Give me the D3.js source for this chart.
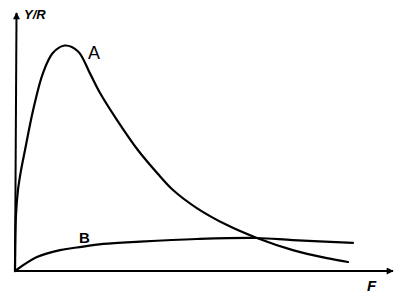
<!DOCTYPE html>
<html><head><meta charset="utf-8">
<script src="https://cdn.jsdelivr.net/npm/d3@7"></script>
<style>html,body{margin:0;padding:0;background:#fff;}svg{display:block;}</style>
</head><body>
<script>
// Curve A (F, Y/R)
const curveAF = [0, 0.26, 0.79, 1.6, 2.65, 4.8, 7.4, 10.0, 13.2, 16.7, 19.8, 22.5, 27.0, 32.5, 37.6, 41.8, 48.1, 56.1, 64.0, 73.5, 82.5, 88.1];
const curveAY = [0, 21.7, 31.4, 39.1, 46.9, 62.4, 76.7, 84.5, 87.4, 85.1, 76.7, 69.0, 58.5, 46.9, 38.0, 31.4, 24.4, 17.8, 12.8, 8.1, 5.0, 3.5];
// Curve B
const curveBF = [0, 5.8, 11.9, 16.4, 23.3, 33.1, 48.1, 64.0, 73.5, 89.4];
const curveBY = [0, 5.4, 8.1, 9.1, 10.5, 11.4, 12.4, 12.8, 12.0, 10.9];
const seriesNames = ["A", "B"];
const axisLabels = ["F", "Y/R"];

const W = 400, H = 297;
const svg = d3.select("body").append("svg").attr("width", W).attr("height", H);
const x = d3.scaleLinear().domain([0, 100]).range([15, 393]);
const y = d3.scaleLinear().domain([0, 100]).range([271, 13]);

const defs = svg.append("defs");
defs.append("marker").attr("id", "arr").attr("viewBox", "0 0 10 10")
  .attr("refX", 9).attr("refY", 5).attr("markerWidth", 9).attr("markerHeight", 7)
  .attr("markerUnits", "userSpaceOnUse").attr("orient", "auto")
  .append("path").attr("d", "M0,0 L10,5 L0,10 Z").attr("fill", "#000");

// axes
svg.append("line").attr("x1", x(0)).attr("y1", y(0)).attr("x2", x(100)).attr("y2", y(0))
  .attr("stroke", "#000").attr("stroke-width", 2).attr("marker-end", "url(#arr)");
svg.append("line").attr("x1", x(0)).attr("y1", y(0)).attr("x2", x(0.4)).attr("y2", y(100))
  .attr("stroke", "#000").attr("stroke-width", 2).attr("marker-end", "url(#arr)");

const line = d3.line().x(d => x(d[0])).y(d => y(d[1])).curve(d3.curveCatmullRom.alpha(0.5));
const dataA = curveAF.map((f, i) => [f, curveAY[i]]);
const dataB = curveBF.map((f, i) => [f, curveBY[i]]);
[dataA, dataB].forEach(d => {
  svg.append("path").datum(d).attr("d", line).attr("fill", "none")
    .attr("stroke", "#000").attr("stroke-width", 2.2).attr("stroke-linecap", "round");
});

const font = "'Liberation Sans', Arial, sans-serif";
svg.append("text").attr("x", 88).attr("y", 59).text(seriesNames[0])
  .attr("font-family", font).attr("font-size", 18).attr("fill", "#000");
svg.append("text").attr("x", 79).attr("y", 243).text(seriesNames[1])
  .attr("font-family", font).attr("font-size", 15).attr("font-weight", "bold").attr("fill", "#000");
svg.append("text").attr("x", 367).attr("y", 291).text(axisLabels[0])
  .attr("font-family", font).attr("font-size", 15).attr("font-style", "italic").attr("font-weight", "bold").attr("fill", "#000");
svg.append("text").attr("x", 24).attr("y", 19).text(axisLabels[1])
  .attr("font-family", font).attr("font-size", 13).attr("font-style", "italic").attr("font-weight", "bold").attr("fill", "#000");
</script>
</body></html>
